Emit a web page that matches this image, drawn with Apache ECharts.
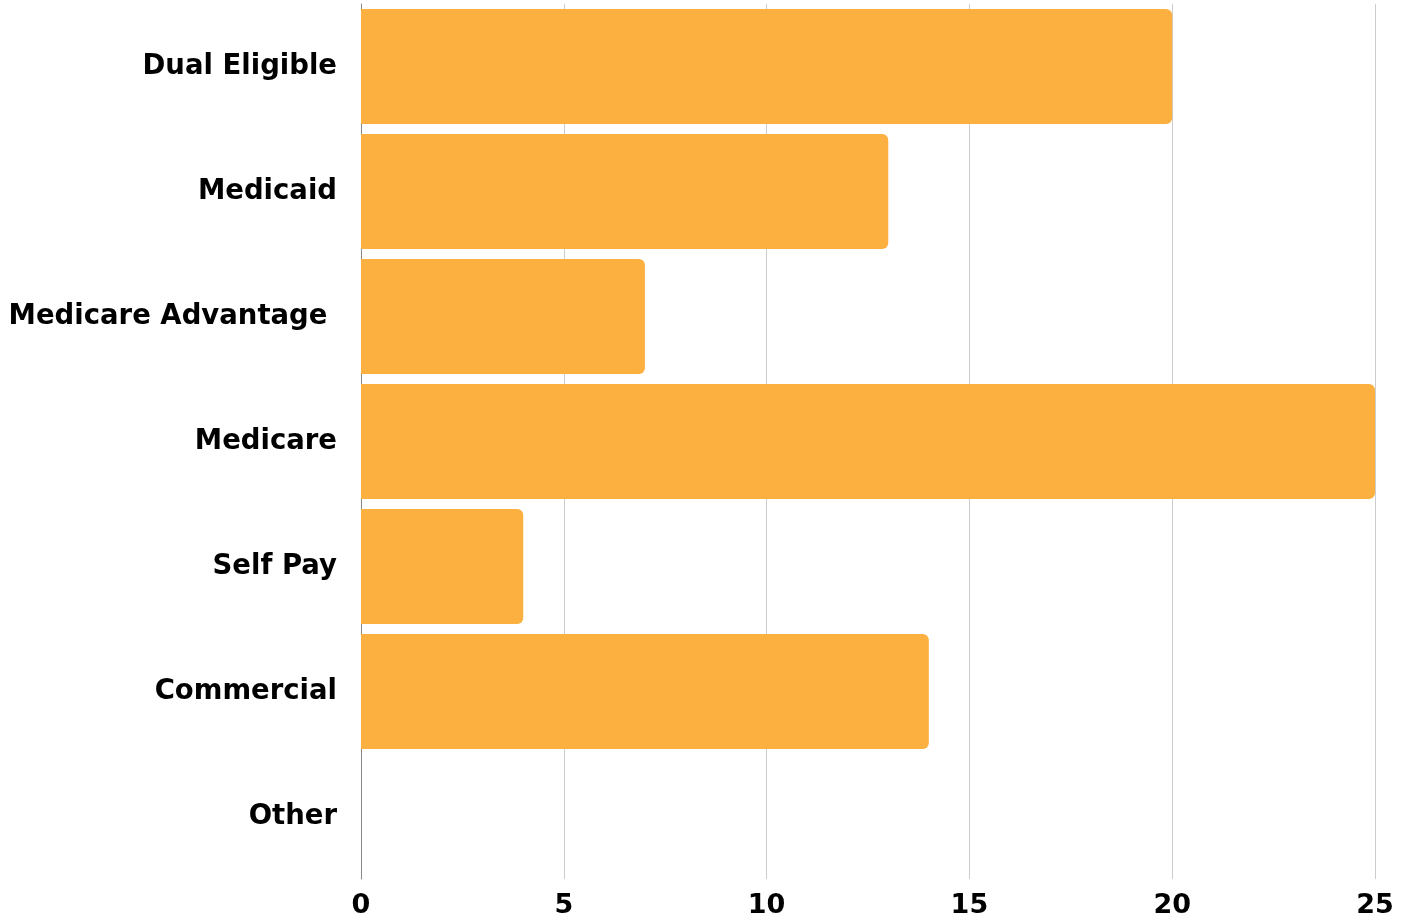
<!DOCTYPE html>
<html>
<head>
<meta charset="utf-8">
<script src="https://cdn.jsdelivr.net/npm/echarts@6/dist/echarts.min.js"></script>
<style>html,body{margin:0;padding:0;background:#fff}#c{width:1403px;height:920px}</style>
</head>
<body>
<div id="c"></div>
<script>
const categories = ["Dual Eligible", "Medicaid", "Medicare Advantage ", "Medicare", "Self Pay", "Commercial", "Other"];
const values = [20, 13, 7, 25, 4, 14, 0];
const xTicks = [0, 5, 10, 15, 20, 25];

const chart = echarts.init(document.getElementById('c'));
chart.setOption({
  animation: false,
  grid: { left: 361, right: 28, top: 4, bottom: 41, containLabel: false },
  xAxis: {
    type: 'value', min: xTicks[0], max: xTicks[xTicks.length - 1], interval: 5,
    axisLine: { show: false }, axisTick: { show: false },
    splitLine: { show: true, lineStyle: { color: '#cccccc', width: 1 } },
    axisLabel: { color: '#000', fontFamily: 'DejaVu Sans', fontWeight: 'bold', fontSize: 27, margin: 13 }
  },
  yAxis: {
    type: 'category', data: categories, inverse: true,
    axisLine: { show: true, lineStyle: { color: '#888888', width: 1 } },
    axisTick: { show: false },
    axisLabel: { color: '#000', fontFamily: 'DejaVu Sans', fontWeight: 'bold', fontSize: 27.5, margin: 24, padding: [4, 0, 0, 0] }
  },
  series: [{
    type: 'bar', data: values, barCategoryGap: '8%',
    itemStyle: { color: '#FBB040', borderRadius: [0, 6, 6, 0] }
  }]
});
</script>
</body>
</html>
